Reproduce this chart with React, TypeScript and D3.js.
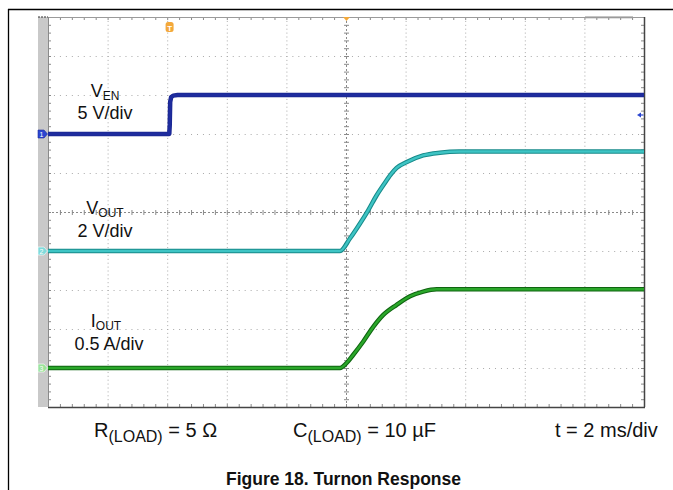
import * as d3 from "d3";

// time in ms, 2 ms/div, 0 = screen centre
const venTime = [-10, -5.93, -5.915, -5.9, -5.87, -5.8, -5.65, 10];
const venVolts = [0, 0, 1.2, 4.1, 4.7, 4.92, 5, 5];

const voutTime = [-10, -0.54, -0.2, 0.13, 0.47, 0.75, 1.03, 1.25, 1.5, 1.7, 2.04, 2.59, 3.15, 3.8, 10];
const voutVolts = [0, 0, 0, 0.64, 1.41, 2.1, 2.86, 3.37, 3.92, 4.26, 4.56, 4.9, 5.04, 5.1, 5.1];

const ioutTime = [-10, -0.2, 0.02, 0.245, 0.58, 0.92, 1.25, 1.7, 2.15, 2.59, 3.04, 10];
const ioutAmps = [0, 0, 0.064, 0.17, 0.34, 0.53, 0.68, 0.81, 0.92, 0.98, 1.01, 1.01];

const channelNames = ["1", "2", "3"];
const channelScales = [5, 2, 0.5]; // units per div
const channelOffsets = [2, -1, -4]; // ground level, div from centre
const channelColors = ["#1e2c9e", "#3ec4c4", "#2aa72a"];
const channelEdges = ["#1a2690", "#178a8a", "#0f6410"];
const markerColors = ["#2b46d0", "#7fdada", "#9be39b"];

const labelMain = ["V", "V", "I"];
const labelSub = ["EN", "OUT", "OUT"];
const labelScale = ["5 V/div", "2 V/div", "0.5 A/div"];

const condMain = ["R", "C", "t = 2 ms/div"];
const condSub = ["(LOAD)", "(LOAD)", ""];
const condRest = [" = 5 Ω", " = 10 µF", ""];

const title = "Figure 18. Turnon Response";
const triggerTime = -5.92;

const FONT = "Arial, 'Liberation Sans', sans-serif";

const ScopeChart = () => {
  const left = 48;
  const right = 644;
  const top = 17;
  const bottom = 407;

  const xScale = d3.scaleLinear().domain([-10, 10]).range([left, right]);
  const yScale = d3.scaleLinear().domain([-5, 5]).range([bottom, top]);

  const traces = [
    d3.zip(venTime, venVolts),
    d3.zip(voutTime, voutVolts),
    d3.zip(ioutTime, ioutAmps)
  ].map((pts, ch) =>
    pts.map((p) => [p[0], channelOffsets[ch] + p[1] / channelScales[ch]] as [number, number])
  );

  const smooth = d3
    .line<[number, number]>()
    .x((d) => xScale(d[0]))
    .y((d) => yScale(d[1]))
    .curve(d3.curveMonotoneX);
  const straight = d3
    .line<[number, number]>()
    .x((d) => xScale(d[0]))
    .y((d) => yScale(d[1]));

  const majorX = d3.range(-8, 9, 2).filter((v) => v !== 0);
  const majorY = d3.range(-4, 5, 1).filter((v) => v !== 0);
  const minorX = d3.range(-10, 10.001, 0.4);
  const minorY = d3.range(-5, 5.001, 0.2);
  const dx = xScale(0.4) - xScale(0);
  const dy = yScale(0) - yScale(0.2);

  return (
    <svg
      width={673}
      height={490}
      style={{ position: "absolute", left: 0, top: 0, background: "#fff" }}
    >
      <defs>
        <clipPath id="plot">
          <rect x={left} y={top} width={right - left} height={bottom - top} />
        </clipPath>
      </defs>

      {/* page frame */}
      <line x1={8.5} y1={9} x2={8.5} y2={490} stroke="#000" strokeWidth={1.3} />
      <line x1={8} y1={9.5} x2={673} y2={9.5} stroke="#000" strokeWidth={1.3} />

      {/* grey gutter */}
      <rect x={38} y={top} width={left - 38} height={bottom - top} fill="#c9c9c9" />
      <line x1={38} y1={top} x2={left} y2={top} stroke="#333" strokeDasharray="2,1" />
      <rect x={585} y={top - 1} width={48} height={2.5} fill="#c4c4c4" />

      {/* grid */}
      <g stroke="#a9a9a9" strokeWidth={1}>
        {majorX.map((v) => (
          <line
            key={"gx" + v}
            x1={xScale(v) + 0.5}
            x2={xScale(v) + 0.5}
            y1={top + dy / 2}
            y2={bottom}
            strokeDasharray={`1,${dy / 2 - 1}`}
          />
        ))}
        {majorY.map((v) => (
          <line
            key={"gy" + v}
            y1={yScale(v) + 0.5}
            y2={yScale(v) + 0.5}
            x1={left + dx / 2}
            x2={right}
            strokeDasharray={`1,${dx / 2 - 1}`}
          />
        ))}
      </g>

      {/* centre axes with minor ticks */}
      <g stroke="#8a8a8a" strokeWidth={1}>
        <line x1={left} x2={right} y1={yScale(0) + 0.5} y2={yScale(0) + 0.5} strokeDasharray="2,2" />
        <line x1={xScale(0) + 0.5} x2={xScale(0) + 0.5} y1={top} y2={bottom} strokeDasharray="2,2" />
        {minorX.map((v) => (
          <line key={"cx" + v} x1={xScale(v) + 0.5} x2={xScale(v) + 0.5} y1={yScale(0) - 2} y2={yScale(0) + 3} />
        ))}
        {minorY.map((v) => (
          <line key={"cy" + v} y1={yScale(v) + 0.5} y2={yScale(v) + 0.5} x1={xScale(0) - 2} x2={xScale(0) + 3} />
        ))}
        {minorX.map((v) => (
          <g key={"bx" + v}>
            <line x1={xScale(v) + 0.5} x2={xScale(v) + 0.5} y1={top} y2={top + 3} />
            <line x1={xScale(v) + 0.5} x2={xScale(v) + 0.5} y1={bottom} y2={bottom - 3} />
          </g>
        ))}
        {minorY.map((v) => (
          <g key={"by" + v}>
            <line y1={yScale(v) + 0.5} y2={yScale(v) + 0.5} x1={left} x2={left + 3} />
            <line y1={yScale(v) + 0.5} y2={yScale(v) + 0.5} x1={right} x2={right - 3} />
          </g>
        ))}
      </g>

      {/* plot border */}
      <line x1={left} x2={right} y1={top + 0.5} y2={top + 0.5} stroke="#9a9a9a" />
      <line x1={left} x2={right + 1} y1={bottom + 0.5} y2={bottom + 0.5} stroke="#444" strokeWidth={1.5} />
      <line x1={right + 0.5} x2={right + 0.5} y1={top} y2={bottom} stroke="#444" strokeWidth={1.5} />
      <line x1={left + 0.5} x2={left + 0.5} y1={top} y2={bottom} stroke="#8a8a8a" />

      {/* traces */}
      <g clipPath="url(#plot)" fill="none" strokeLinejoin="round">
        {traces.map((pts, ch) => {
          const path = ch === 0 ? straight(pts) : smooth(pts);
          return (
            <g key={"tr" + ch}>
              <path d={path ?? ""} stroke={channelEdges[ch]} strokeWidth={4.5} />
              <path d={path ?? ""} stroke={channelColors[ch]} strokeWidth={ch === 0 ? 3 : 2.4} />
            </g>
          );
        })}
      </g>

      {/* ground markers */}
      {channelNames.map((name, ch) => {
        const y = yScale(channelOffsets[ch]);
        return (
          <g key={"gm" + ch}>
            <path
              d={`M38,${y - 4}H44L47.5,${y}L44,${y + 4}H38Z`}
              fill={markerColors[ch]}
              stroke={ch === 0 ? "#1e2c9e" : "#fff"}
              strokeWidth={0.6}
            />
            <text
              x={41.5}
              y={y + 3}
              fontSize={7}
              fill="#fff"
              textAnchor="middle"
              fontFamily={FONT}
            >
              {name}
            </text>
          </g>
        );
      })}

      {/* trigger markers */}
      <rect x={xScale(triggerTime) - 4} y={22} width={8} height={10} rx={2.5} fill="#f3a83a" />
      <text x={xScale(triggerTime)} y={30.5} fontSize={8} fill="#fff" textAnchor="middle" fontFamily={FONT} fontWeight="bold">
        T
      </text>
      <path
        d={`M${xScale(0) - 3},${top}H${xScale(0) + 4}L${xScale(0) + 0.5},${top + 4}Z`}
        fill="#f3a83a"
      />
      <path d="M637,115L641,112.5V117.5Z" fill="#2b46d0" />
      <line x1={640} x2={643.5} y1={115} y2={115} stroke="#2b46d0" strokeWidth={1.2} />

      {/* channel labels */}
      <g fontFamily={FONT} fill="#111" textAnchor="middle">
        {[
          { x: 105, y1: 97, y2: 119 },
          { x: 105, y1: 214, y2: 237 },
          { x: 106, y1: 327, y2: 350 }
        ].map((p, i) => (
          <g key={"lb" + i}>
            <text x={p.x} y={p.y1} fontSize={18}>
              {labelMain[i]}
              <tspan fontSize={12} dy={3}>
                {labelSub[i]}
              </tspan>
            </text>
            <text x={i === 2 ? 109 : p.x} y={p.y2} fontSize={18}>
              {labelScale[i]}
            </text>
          </g>
        ))}
      </g>

      {/* conditions */}
      <g fontFamily={FONT} fill="#111" fontSize={20}>
        {[94, 293, 555].map((x, i) => (
          <text key={"cd" + i} x={x} y={437}>
            {condMain[i]}
            {condSub[i] && (
              <tspan fontSize={16} dy={5}>
                {condSub[i]}
              </tspan>
            )}
            {condRest[i] && <tspan dy={-5}>{condRest[i]}</tspan>}
          </text>
        ))}
      </g>

      <text
        x={343.5}
        y={485}
        fontFamily={FONT}
        fontWeight="bold"
        fontSize={17.5}
        textAnchor="middle"
        fill="#111"
      >
        {title}
      </text>
    </svg>
  );
};

export default function App() {
  return <ScopeChart />;
}
